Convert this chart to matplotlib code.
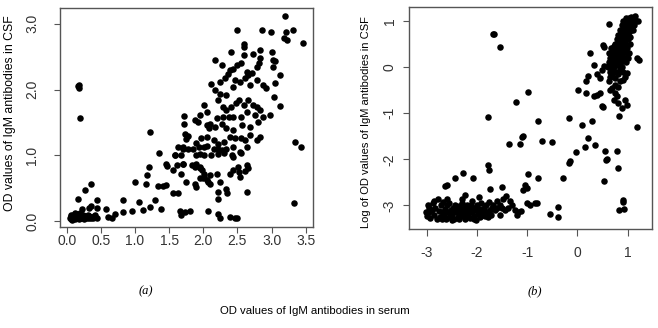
import numpy as np
import matplotlib.pyplot as plt

plt.rcParams['font.family'] = ['Liberation Sans', 'DejaVu Sans']
plt.rcParams['axes.unicode_minus'] = False

# (a) OD values, serum vs CSF
serum_a = [0.05, 0.06, 0.07, 0.08, 0.09, 0.10, 0.10, 0.11, 0.12, 0.13, 0.13, 0.14, 0.15, 0.16, 0.17, 0.18, 0.19,
           0.20, 0.21, 0.22, 0.23, 0.25, 0.26, 0.27, 0.29, 0.30, 0.32, 0.33, 0.35, 0.36, 0.38, 0.40, 0.42, 0.44,
           0.08, 0.12, 0.15, 0.20, 0.24, 0.06, 0.31,
           0.17, 0.18, 0.18, 0.20, 0.35, 0.27, 0.16, 0.32, 0.36, 0.23, 0.45, 0.44, 0.60, 0.66, 0.58, 0.71, 0.83,
           0.95, 0.82, 1.06, 1.12, 1.22, 1.00, 1.16, 1.17, 1.20, 1.29, 1.38, 1.22, 1.35, 1.34, 1.41, 1.46, 1.46,
           1.47, 1.56, 1.63, 1.56, 1.61, 1.71, 1.68, 1.68, 1.73, 1.66, 1.63, 1.59, 1.71, 1.78, 1.68, 1.70, 1.70,
           1.72, 1.72, 1.73, 1.75, 1.75, 1.80, 1.78, 1.85, 1.89, 1.95, 1.98, 1.95, 1.88, 1.83, 2.01, 2.05, 2.00,
           1.95, 2.01, 2.10, 2.07, 1.90, 1.88, 2.10, 2.20, 2.25, 2.33, 2.35, 2.22, 2.22, 2.39, 2.44, 2.51, 2.53,
           2.64, 2.61, 2.54, 2.64, 2.66, 2.07, 2.22, 2.24, 2.39, 2.46, 2.50, 3.33, 3.35, 3.43,
           1.59, 1.89, 1.95, 2.01, 2.11, 2.21, 2.30, 2.42, 2.44, 2.55,
           1.90, 1.94, 2.01, 2.06, 2.15, 2.22, 2.28, 2.34, 2.44, 2.54, 2.64,
           1.97, 2.05, 2.15, 2.22, 2.30, 2.39, 2.46, 2.55, 2.61, 2.69, 2.79, 2.83,
           1.88, 1.93, 2.05, 2.10, 2.09, 2.17, 2.28, 2.34, 2.44, 2.56, 2.68, 2.80,
           1.95, 2.05, 2.01, 2.20, 2.29, 2.38, 2.44, 2.55, 2.64, 2.76, 2.88, 2.83, 2.78, 2.73, 2.66, 2.59, 2.53,
           2.48, 2.41, 2.34, 2.29, 2.22, 2.97, 3.12, 3.04,
           2.11, 2.17, 2.25, 2.34, 2.44, 2.46, 2.54, 2.61, 2.69, 2.78, 2.88, 2.92, 3.12, 3.05,
           2.17, 2.27, 2.40, 2.59, 2.60, 2.60, 2.73, 2.83, 3.01, 3.02, 3.05, 3.02, 2.83, 2.81, 2.78, 2.72, 2.66,
           2.64, 2.55, 2.50, 2.44, 2.39, 2.36, 2.32, 2.25,
           3.20, 2.50, 2.86, 2.99, 3.21, 3.32, 3.18, 3.22, 3.46]
csf_a = [0.04, 0.07, 0.03, 0.05, 0.09, 0.04, 0.06, 0.08, 0.03, 0.05, 0.10, 0.07, 0.04, 0.06, 0.09, 0.03, 0.05,
         0.07, 0.04, 0.06, 0.10, 0.05, 0.03, 0.07, 0.04, 0.06, 0.05, 0.08, 0.04, 0.06, 0.05, 0.07, 0.09, 0.05,
         0.02, 0.12, 0.11, 0.12, 0.09, 0.10, 0.10,
         2.05, 2.02, 2.07, 1.56, 0.57, 0.47, 0.33, 0.20, 0.23, 0.19, 0.20, 0.32, 0.06, 0.04, 0.19, 0.11, 0.14,
         0.16, 0.32, 0.29, 0.17, 0.21, 0.60, 0.57, 0.70, 0.82, 0.32, 0.19, 1.36, 1.04, 0.54, 0.54, 0.55, 0.87,
         0.84, 0.42, 0.43, 0.77, 0.85, 0.87, 0.72, 0.09, 0.14, 0.16, 1.13, 1.00, 1.10, 1.10, 1.01, 0.87, 1.12,
         1.60, 1.48, 1.32, 1.25, 0.60, 0.15, 1.30, 1.10, 0.87, 0.82, 0.77, 0.80, 0.82, 0.85, 0.67, 0.62, 0.65,
         0.65, 0.72, 0.70, 0.59, 0.52, 0.57, 0.57, 0.72, 0.59, 0.49, 0.42, 0.44, 0.34, 0.72, 0.77, 0.82, 0.75,
         0.85, 0.76, 0.67, 0.44, 0.80, 0.16, 0.11, 0.04, 0.06, 0.05, 0.05, 0.27, 1.20, 1.13,
         1.00, 1.00, 1.02, 1.01, 1.00, 1.02, 1.03, 1.00, 0.98, 1.04,
         1.18, 1.13, 1.13, 1.14, 1.10, 1.10, 1.08, 1.09, 1.13, 1.05, 1.13,
         1.26, 1.28, 1.23, 1.17, 1.20, 1.28, 1.27, 1.26, 1.23, 1.31, 1.24, 1.28,
         1.54, 1.51, 1.46, 1.48, 1.41, 1.43, 1.47, 1.41, 1.38, 1.46, 1.43, 1.51,
         1.61, 1.66, 1.76, 1.56, 1.59, 1.59, 1.59, 1.59, 1.66, 1.61, 1.59, 1.69, 1.74, 1.76, 1.84, 1.76, 1.84,
         1.79, 1.74, 1.69, 1.74, 1.84, 1.62, 1.75, 1.89,
         2.09, 2.00, 1.94, 1.92, 2.04, 2.15, 2.12, 2.17, 2.07, 2.15, 2.07, 2.03, 2.22, 2.10,
         2.45, 2.37, 2.57, 2.53, 2.65, 2.70, 2.54, 2.60, 2.57, 2.45, 2.43, 2.35, 2.48, 2.40, 2.35, 2.25, 2.22,
         2.27, 2.40, 2.37, 2.32, 2.30, 2.24, 2.17, 2.12,
         3.12, 2.90, 2.90, 2.88, 2.87, 2.90, 2.78, 2.75, 2.71]

# (b) natural log of the same values
log_serum_b = [-1.69, -1.66, -1.54, -1.79, -1.23, -0.98, -0.79, -1.37, -1.08, -1.10, -1.14, -0.71, -0.50,
               -1.79, -1.76, -2.08, -2.27, -2.44, -2.60, -2.64, -2.24, -1.75, -1.51, -0.98, -1.04, -1.01,
               -1.08, -0.79, -0.28, -0.17, 0.10, 0.28, 0.22, 0.35, 0.15, -0.03, -0.15, -0.17, 0.55, 0.78,
               0.58, 0.56, 0.81, 0.53, 0.90, 0.91, 0.82, 0.93, -0.55, -0.38, -0.38, 1.19, 1.19, 1.23,
               0.02, 0.18, 0.18, 0.21, 0.24, 0.32, 0.32, 0.39, 0.45, 0.48, 0.50, 0.39, 0.45, 0.48, 0.52,
               0.52, 0.50, 0.62, 0.65, 0.68, 0.75, 0.78, 0.72, 0.81, 0.83, 0.88, 0.94, 0.98, 0.91, 0.94,
               0.98, 0.85, 0.80, 0.74, 0.62, 0.64, 0.68, 0.62,
               0.60, 0.63, 0.65, 0.66, 0.68, 0.68, 0.70, 0.70, 0.71, 0.72, 0.73, 0.74, 0.74, 0.75, 0.76,
               0.76, 0.77, 0.78, 0.78, 0.79, 0.80, 0.80, 0.81, 0.81, 0.82, 0.82, 0.83, 0.83, 0.84, 0.84,
               0.85, 0.85, 0.86, 0.86, 0.87, 0.87, 0.88, 0.88, 0.89, 0.89, 0.90, 0.90, 0.91, 0.91, 0.92,
               0.92, 0.93, 0.93, 0.94, 0.94, 0.95, 0.95, 0.96, 0.96, 0.97, 0.97, 0.98, 0.98, 0.99, 1.00,
               1.00, 1.01, 1.02, 1.02, 1.03, 1.04, 1.05, 1.06, 1.07, 1.08, 1.09, 1.10, 1.12, 1.14, 1.15,
               1.17, 1.20, 0.98, 0.95, 0.92, 0.88, 0.90, 0.72, 0.67, 0.62, 0.64, 0.69, 0.75, 0.80, 0.85,
               1.05, 1.02, 1.00, 1.05, 1.10, 1.12, 0.96,
               -3.02, -3.00, -2.98, -2.95, -2.93, -2.90, -2.88, -2.85, -2.83, -2.80, -2.78, -2.76, -2.74,
               -2.72, -2.70, -2.68, -2.66, -2.64, -2.62, -2.60, -2.58, -2.56, -2.55, -2.52, -2.50, -2.48,
               -2.46, -2.44, -2.42, -2.40, -2.38, -2.36, -2.34, -2.32, -2.30, -2.28, -2.26, -2.24, -2.22,
               -2.20, -2.18, -2.16, -2.14, -2.12, -2.10, -2.08, -2.06, -2.04, -2.02, -2.00, -1.98, -1.96,
               -1.94, -1.92, -1.90, -1.88, -1.86, -1.84, -1.82, -1.80, -1.78, -1.76, -1.74, -1.72, -1.70,
               -2.60, -2.85, -2.30, -2.10, -1.95, -2.70, -2.50, -2.35, -2.05, -2.95, -2.65, -2.45, -2.25,
               -2.15, -1.92,
               -1.65, -1.60, -1.55, -1.50, -1.48, -1.45, -1.42, -1.38, -1.35, -1.25, -1.20, -1.18, -1.12,
               -1.00, -0.95, -0.85, -0.80, -1.30, -1.55, -1.60, -1.68]
log_csf_b = [0.72, 0.71, 0.44, -1.09, -0.75, -0.55, -1.17, -1.67, -1.49, -1.52, -1.66, -1.61, -1.63,
             -2.12, -2.23, -2.41, -2.30, -2.41, -2.55, -2.57, -2.77, -2.65, -2.61, -2.31, -2.55, -2.62,
             -2.67, -2.41, -2.41, -1.11, -1.25, -1.18, -1.53, -1.70, -1.74, -1.85, -2.03, -2.07, -1.81,
             -1.83, -2.00, -2.01, -2.18, -2.48, -2.89, -2.93, -3.09, -3.08, -3.19, -3.04, -3.24, -1.31,
             0.19, 0.14,
             -0.51, -0.57, -0.31, -0.19, 0.30, 0.05, -0.64, -0.60, -0.57, -0.84, -0.87, -0.15, -0.24,
             -0.06, 0.01, 0.44, 0.48, 0.93, -0.49, -0.46, -0.57, -0.64, -0.71, -0.78, -1.07, -0.89,
             -0.71, -0.82, -0.28, -0.21, -0.13, -0.31, -0.44, -0.39, -0.31, -0.21, -0.13, 0.05,
             0.00, 0.10, 0.20, 0.05, 0.30, -0.05, 0.15, 0.40, 0.25, 0.00, 0.35, 0.50, 0.10, 0.20, 0.45,
             -0.10, 0.30, 0.60, 0.15, 0.40, 0.50, 0.25, 0.70, 0.05, 0.35, 0.55, 0.45, 0.20, 0.65, 0.80,
             0.30, 0.50, 0.60, 0.10, 0.75, 0.40, 0.55, 0.90, 0.65, 0.25, 0.80, 0.45, 0.70, 1.00, 0.55,
             0.85, 0.35, 0.95, 0.60, 0.75, 0.90, 0.50, 0.80, 1.05, 0.65, 0.95, 0.70, 0.30, 0.85, 1.00,
             0.60, 0.90, 0.75, 1.05, 0.95, 0.85, 1.00, 0.80, 1.08, 0.90, 1.00, 0.95, 1.05, 1.10, 1.02,
             1.00, 1.00, 0.40, 0.20, 0.15, 0.00, -0.10, 0.45, 0.42, 0.30, -0.10, -0.20, -0.25, -0.15,
             -0.05, 0.50, 0.30, 0.20, 0.65, 0.80, 0.90, 0.10,
             -3.15, -3.22, -2.98, -3.05, -3.28, -3.10, -2.95, -3.20, -3.05, -3.30, -2.85, -3.12, -3.25,
             -3.00, -3.15, -2.92, -3.22, -3.08, -3.30, -3.00, -3.15, -3.25, -2.95, -3.10, -3.20, -3.05,
             -3.30, -2.98, -3.15, -3.08, -3.25, -3.02, -3.18, -3.10, -2.95, -3.22, -3.05, -3.30, -3.12,
             -3.00, -3.20, -3.08, -3.28, -2.98, -3.15, -3.05, -3.22, -3.10, -3.32, -3.00, -3.18, -3.08,
             -3.25, -2.95, -3.12, -3.20, -3.05, -3.22, -3.00, -3.15, -3.25, -2.92, -3.10, -3.20, -3.05,
             -2.85, -2.90, -2.85, -2.90, -2.82, -3.30, -3.32, -3.30, -3.30, -3.15, -3.15, -3.12, -3.15,
             -3.12, -3.10,
             -3.10, -2.90, -3.00, -3.05, -2.85, -3.10, -2.80, -3.05, -2.90, -3.10, -3.20, -3.15, -3.12,
             -2.95, -3.00, -2.95, -2.95, -3.00, -3.20, -3.05, -2.98]

box_col = '#555555'
txt_col = '#333333'

fig = plt.figure(figsize=(6.58, 3.28), dpi=100)

# Panel (a)
ax1 = fig.add_axes([0.0912, 0.3079, 0.3845, 0.6677])
ax1.scatter(serum_a, csf_a, s=22, color='black', linewidths=0)
ax1.set_xlim(-0.098, 3.607)
ax1.set_ylim(-0.09, 3.24)
ax1.set_xticks(np.arange(0, 3.51, 0.5))
ax1.set_xticklabels(['0.0', '0.5', '1.0', '1.5', '2.0', '2.5', '3.0', '3.5'])
ax1.set_yticks([0, 1, 2, 3])
ax1.set_yticklabels(['0.0', '1.0', '2.0', '3.0'], rotation=90, va='center')
ax1.tick_params(axis='x', length=4, pad=1, labelsize=10, colors=box_col, labelcolor=txt_col)
ax1.tick_params(axis='y', length=4, pad=11, labelsize=10, colors=box_col, labelcolor=txt_col)
for sp in ax1.spines.values():
    sp.set_color(box_col)
    sp.set_linewidth(1.0)
fig.text(10 / 658, 1 - 113 / 328, 'OD values of IgM antibodies in CSF', rotation=90,
         ha='center', va='center', fontsize=8.8)

# Panel (b)
ax2 = fig.add_axes([0.6216, 0.3018, 0.3693, 0.6768])
ax2.scatter(log_serum_b, log_csf_b, s=22, color='black', linewidths=0)
ax2.set_xlim(-3.352, 1.484)
ax2.set_ylim(-3.51, 1.297)
ax2.set_xticks([-3, -2, -1, 0, 1])
ax2.set_yticks([-3, -2, -1, 0, 1])
ax2.set_yticklabels(['-3', '-2', '-1', '0', '1'], rotation=90, va='center')
ax2.tick_params(axis='x', length=5, pad=7, labelsize=10, colors=box_col, labelcolor=txt_col)
ax2.tick_params(axis='y', length=4, pad=5, labelsize=10, colors=box_col, labelcolor=txt_col)
for sp in ax2.spines.values():
    sp.set_color(box_col)
    sp.set_linewidth(1.0)
fig.text(366 / 658, 1 - 122 / 328, 'Log of OD values of IgM antibodies in CSF', rotation=90,
         ha='center', va='center', fontsize=8)

# captions
fig.text(146 / 658, 1 - 291 / 328, '(a)', ha='center', va='center', fontsize=9,
         family='Liberation Serif', style='italic')
fig.text(535 / 658, 1 - 291 / 328, '(b)', ha='center', va='center', fontsize=9,
         family='Liberation Serif', style='italic')
fig.text(315 / 658, 1 - 311 / 328, 'OD values of IgM antibodies in serum', ha='center', va='center',
         fontsize=8.2)

fig.savefig('out.png', dpi=100)
